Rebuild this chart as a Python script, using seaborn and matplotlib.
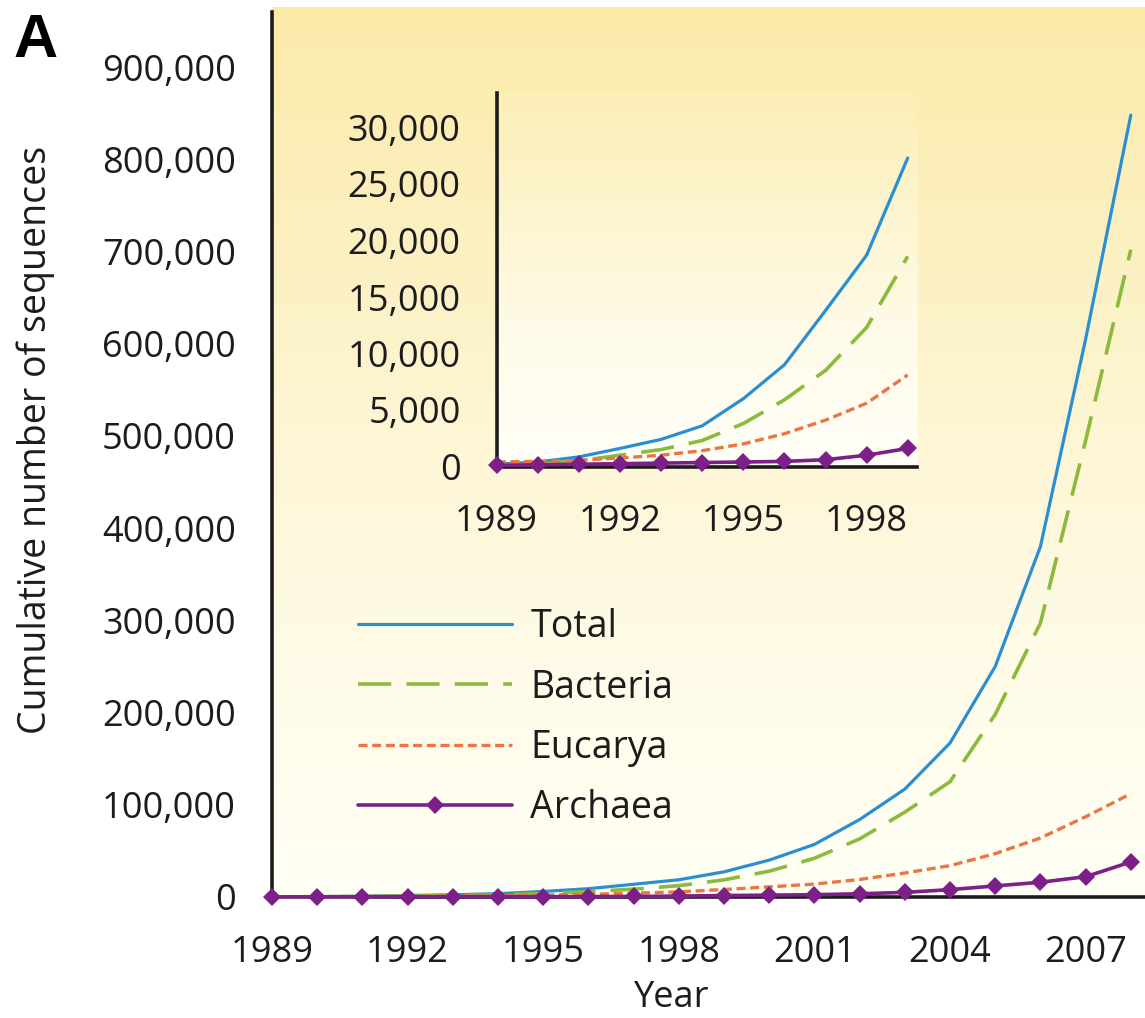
import numpy as np
import matplotlib
matplotlib.use("Agg")
import matplotlib.pyplot as plt
import seaborn as sns
from matplotlib.colors import LinearSegmentedColormap

# Cumulative sequence counts per year
years = list(range(1989, 2009))
total = [200, 400, 850, 1600, 2400, 3600, 6000, 9000, 13800, 18700,
         27300, 40000, 57000, 84000, 117000, 167000, 250000, 380000, 605000, 848000]
bacteria = [100, 200, 500, 1000, 1500, 2300, 3800, 5900, 8500, 12300,
            18600, 28000, 42000, 63000, 92000, 125000, 198000, 297000, 495000, 702000]
eucarya = [400, 450, 550, 750, 1000, 1400, 2000, 2900, 4100, 5600,
           8100, 11000, 14000, 19000, 26000, 34000, 47000, 64000, 87000, 112000]
archaea = [100, 150, 200, 250, 300, 350, 400, 450, 600, 1000,
           1600, 2000, 2500, 3500, 5000, 8000, 12000, 16000, 22000, 38000]

series_names = ["Total", "Bacteria", "Eucarya", "Archaea"]
main_yticks = list(range(0, 900001, 100000))
main_xticks = list(range(1989, 2008, 3))
inset_yticks = list(range(0, 30001, 5000))
inset_xticks = [1989, 1992, 1995, 1998]
inset_end_year = 1999

BLUE = "#2a8ed2"
GREEN = "#8cba3c"
ORANGE = "#ec7544"
PURPLE = "#7d1f88"
INK = "#1c1c1c"

sns.set_style("white")
plt.rcParams["font.family"] = ["Open Sans", "DejaVu Sans"]
plt.rcParams["text.color"] = INK

W, H = 1145, 1018
fig = plt.figure(figsize=(W / 100, H / 100), dpi=100)
fig.patch.set_facecolor("white")


def px_box(left, top, right, bottom):
    return [left / W, 1 - bottom / H, (right - left) / W, (bottom - top) / H]


def gradient_panel(box, colors, z):
    bg = fig.add_axes(box, zorder=z)
    cmap = LinearSegmentedColormap.from_list("panel", colors)
    grad = np.linspace(0, 1, 256).reshape(-1, 1)
    bg.imshow(grad, aspect="auto", cmap=cmap, extent=[0, 1, 0, 1], origin="upper")
    bg.set_axis_off()
    return bg


# warm backdrop behind the main plot
gradient_panel(px_box(272, 7, W, 897),
               ["#fbeaa8", "#fcf0c0", "#fef6d6", "#fffbe8", "#fffff5"], 0)

styles = {
    "Total": dict(color=BLUE, lw=2.3, linestyle="-"),
    "Bacteria": dict(color=GREEN, lw=2.6, linestyle=(0, (9.2, 4.2))),
    "Eucarya": dict(color=ORANGE, lw=2.4, linestyle=(0, (2.7, 1.4))),
    "Archaea": dict(color=PURPLE, lw=2.6, linestyle="-", marker="D",
                    markersize=9, markeredgewidth=0),
}
values = {"Total": total, "Bacteria": bacteria, "Eucarya": eucarya, "Archaea": archaea}


def style_axis(a, xticks, yticks):
    for side in ("top", "right"):
        a.spines[side].set_visible(False)
    for side in ("left", "bottom"):
        a.spines[side].set_linewidth(2.6)
        a.spines[side].set_color(INK)
        a.spines[side].set_zorder(1)
    a.set_xticks(xticks)
    a.set_xticklabels([str(v) for v in xticks])
    a.set_yticks(yticks)
    a.set_yticklabels([f"{v:,}" for v in yticks])
    a.tick_params(axis="both", direction="out", width=1.6, color=INK,
                  labelsize=26, labelcolor=INK)
    a.tick_params(axis="x", length=19, pad=8)
    a.tick_params(axis="y", length=18, pad=8)
    a.set_xlabel("")
    a.set_ylabel("")


# main axes
ax = fig.add_axes(px_box(272, 12, W, 897), zorder=1)
ax.patch.set_alpha(0)
handles = []
for name in series_names:
    sns.lineplot(x=years, y=values[name], ax=ax, clip_on=False, **styles[name])
    handles.append(ax.lines[-1])
ax.set_xlim(1989, 1989 + (W - 272) / 45.2)
ax.set_ylim(0, (897 - 12) / 92.2 * 100000)
style_axis(ax, main_xticks, main_yticks)

# inset: early years on a finer scale
inset_box = px_box(496.7, 93, 916.7, 466.5)
gradient_panel(inset_box, ["#fbeeb6", "#fdf5d0", "#fffbea", "#fffff8"], 2)
axi = fig.add_axes(inset_box, zorder=3)
axi.patch.set_alpha(0)
n = years.index(inset_end_year) + 1
for name in series_names:
    sns.lineplot(x=years[:n], y=values[name][:n], ax=axi, clip_on=False, **styles[name])
axi.set_xlim(1989, 1989 + (916.7 - 496.7) / 41.1)
axi.set_ylim(0, (466.5 - 93) / 11.3 * 1000)
style_axis(axi, inset_xticks, inset_yticks)

# legend
leg = ax.legend(handles, series_names, loc="upper left",
                bbox_to_anchor=(358 / W, 1 - 608 / H), bbox_transform=fig.transFigure,
                frameon=False, fontsize=27, handlelength=4.1, handletextpad=0.5,
                labelspacing=0.6, numpoints=1, borderpad=0, borderaxespad=0)
for t in leg.get_texts():
    t.set_color(INK)

# panel letter and axis titles
fig.text(13 / W, 1 - 57 / H, "A", fontsize=44, fontweight="bold",
         family=["Liberation Sans", "DejaVu Sans"], va="baseline", ha="left", color="black")
fig.text(36 / W, 1 - 440 / H, "Cumulative number of sequences", rotation=90,
         ha="center", va="center", fontsize=27)
fig.text(672 / W, 1 - 1016 / H, "Year", ha="center", va="bottom", fontsize=26)

fig.savefig("out.png", dpi=100, facecolor=fig.get_facecolor())
